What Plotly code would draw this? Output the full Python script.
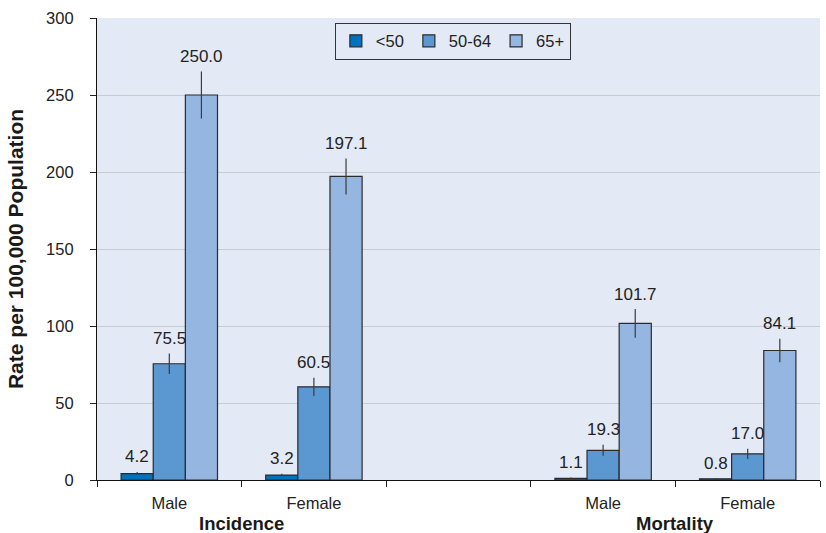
import plotly.graph_objects as go

categories = ["Incidence Male", "Incidence Female", "gap", "Mortality Male", "Mortality Female"]
tick_labels = ["Male", "Female", "", "Male", "Female"]
group_labels = ["Incidence", "Mortality"]
group_centers = [0.5, 3.5]

series_names = ["<50", "50-64", "65+"]
vals_lt50 = [4.2, 3.2, None, 1.1, 0.8]
vals_50_64 = [75.5, 60.5, None, 19.3, 17.0]
vals_65 = [250.0, 197.1, None, 101.7, 84.1]
err_lt50 = [1.0, 0.8, None, 0.5, 0.4]
err_50_64 = [6.7, 5.9, None, 3.6, 3.3]
err_65 = [15.3, 11.7, None, 9.3, 7.6]

y_ticks = [0, 50, 100, 150, 200, 250, 300]

colors = ["#0071bb", "#5b98d2", "#95b6e0"]
FONT = "Liberation Sans, Arial, sans-serif"
BG = "#e3eaf6"

fig = go.Figure()
all_vals = [vals_lt50, vals_50_64, vals_65]
all_errs = [err_lt50, err_50_64, err_65]
for name, v, e, c in zip(series_names, all_vals, all_errs, colors):
    fig.add_trace(go.Bar(
        x=categories, y=v, name=name,
        marker=dict(color=c, line=dict(color="#2b2b2b", width=1.2)),
        error_y=dict(type="data", array=e, visible=True, color="#3a3a3a",
                     thickness=1.2, width=0),
    ))

bargap = 1 / 3
bar_w = (1 - bargap) / 3
offsets = [-bar_w, 0, bar_w]
annotations = []
for k, (v, e) in enumerate(zip(all_vals, all_errs)):
    for i, (vi, ei) in enumerate(zip(v, e)):
        if vi is None:
            continue
        annotations.append(dict(
            x=i + offsets[k], y=vi + ei, xref="x", yref="y",
            text=f"{vi:.1f}", showarrow=False, yanchor="middle", yshift=15,
            font=dict(family=FONT, size=17, color="#222222"),
        ))
for lab, xc in zip(group_labels, group_centers):
    annotations.append(dict(
        x=xc, y=0, xref="x", yref="paper", text=f"<b>{lab}</b>",
        showarrow=False, yanchor="top", yshift=-31,
        font=dict(family=FONT, size=18.5, color="#1a1a1a"),
    ))

fig.update_layout(
    width=826, height=533,
    margin=dict(l=97, r=6, t=18, b=53),
    paper_bgcolor="white", plot_bgcolor=BG,
    barmode="group", bargap=bargap, bargroupgap=0,
    font=dict(family=FONT, size=16.5, color="#222222"),
    showlegend=True,
    legend=dict(
        orientation="h", x=0.329, y=0.99, xanchor="left", yanchor="top",
        bgcolor=BG, bordercolor="#333333", borderwidth=1,
        font=dict(family=FONT, size=16.5, color="#222222"),
        itemwidth=30, tracegroupgap=0,
    ),
    annotations=annotations,
    xaxis=dict(
        type="category", categoryorder="array", categoryarray=categories,
        range=[-0.5, 4.5], tickmode="array", tickvals=categories, ticktext=tick_labels,
        tickson="boundaries", ticks="outside", ticklen=6, tickcolor="#222222",
        showline=True, linecolor="#111111", linewidth=1.2, showgrid=False,
        tickfont=dict(family=FONT, size=16.5, color="#222222"),
        ticklabelstandoff=8, automargin=False, fixedrange=True,
    ),
    yaxis=dict(
        range=[0, 300], tickvals=y_ticks, ticks="outside", ticklen=6, tickcolor="#222222",
        showline=True, linecolor="#111111", linewidth=1.2,
        showgrid=True, gridcolor="#c9cbd0", gridwidth=1.2, zeroline=False,
        tickfont=dict(family=FONT, size=16.5, color="#222222"),
        ticklabelstandoff=13, automargin=False,
        title=dict(text="<b>Rate per 100,000 Population</b>",
                   font=dict(family=FONT, size=21, color="#1a1a1a"), standoff=16),
    ),
)

fig.write_html("out.html", config={"displayModeBar": False},
               post_script="document.body.style.margin='0';")
